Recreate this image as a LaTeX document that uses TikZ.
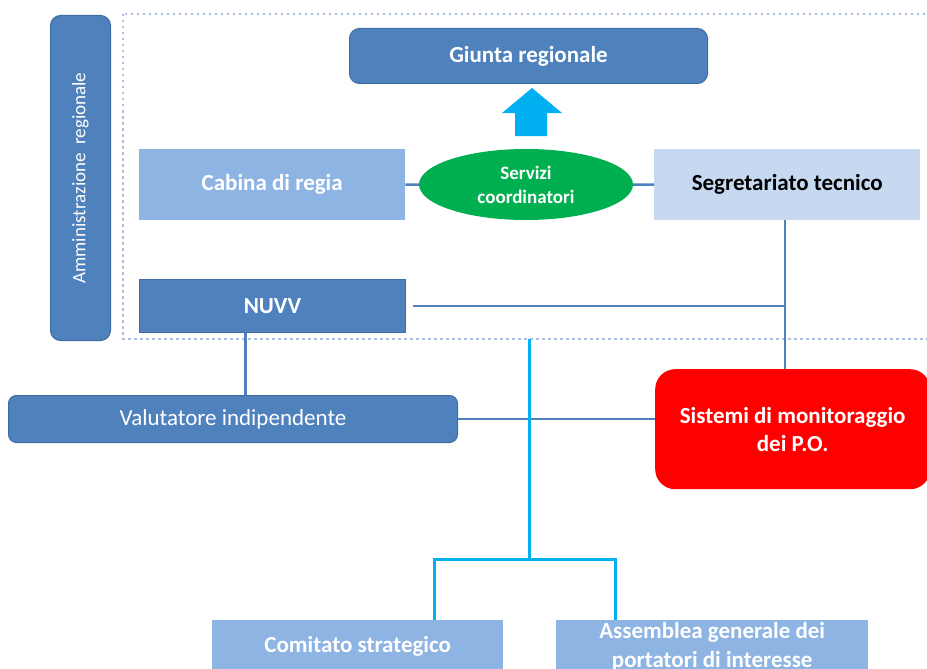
\documentclass[tikz,border=0pt]{standalone}
\usepackage{fontspec}
\setmainfont{Carlito}
\usetikzlibrary{shapes.geometric}
\definecolor{dkblue}{HTML}{4F81BD}
\definecolor{dkborder}{HTML}{3F6CA3}
\definecolor{ltblue}{HTML}{8EB4E3}
\definecolor{paleblue}{HTML}{C6D9F1}
\definecolor{grn}{HTML}{00B050}
\definecolor{cyanc}{HTML}{00B0F0}
\definecolor{dotc}{HTML}{A9C0DE}
\tikzset{
  box/.style={anchor=north west, inner sep=0pt, align=center, text=white, font=\fontsize{23}{28}\selectfont\bfseries},
  darkbox/.style={box, fill=dkblue, draw=dkborder, line width=1pt},
  lightbox/.style={box, fill=ltblue},
  conn/.style={draw=dkblue, line width=2.5pt},
  cyanconn/.style={draw=cyanc, line width=3pt},
}
\begin{document}
\begin{tikzpicture}[x=1pt,y=-1pt]
\useasboundingbox (0,0) rectangle (927,669);
\clip (0,0) rectangle (927,669);
% dotted frame
\draw[dotc, line width=2.5pt, dash pattern=on 2.5pt off 3.5pt] (123,14) rectangle (940,339);
% Admin box
\node[darkbox, rounded corners=10pt, minimum width=60pt, minimum height=325pt] (adm) at (50,15) {};
\node[rotate=90, text=white, font=\fontsize{19}{22}\selectfont] (admtxt) at (adm.center) {Amministrazione\ \ regionale};
% Giunta
\node[darkbox, rounded corners=10pt, minimum width=358pt, minimum height=55pt] (giunta) at (349,28) {Giunta regionale};
% arrow
\fill[cyanc] (515,136) -- (515,113) -- (502,113) -- (532,88) -- (562,113) -- (547,113) -- (547,136) -- cycle;
% middle row
\node[lightbox, minimum width=266pt, minimum height=71pt] (cab) at (139,149) {Cabina di regia};
\node[ellipse, fill=grn, inner sep=0pt, minimum width=214pt, minimum height=71pt, text=white, align=center, font=\fontsize{19}{24}\selectfont\bfseries] (serv) at (526,184.5) {Servizi\\coordinatori};
\node[box, fill=paleblue, text=black, minimum width=266pt, minimum height=71pt] (seg) at (654,149) {Segretariato tecnico};
\node[darkbox, minimum width=266pt, minimum height=53pt] (nuvv) at (139,279) {NUVV};
\node[darkbox, rounded corners=8pt, minimum width=449pt, minimum height=47pt, font=\fontsize{23}{28}\selectfont] (val) at (8,395) {Valutatore indipendente};
\node[box, fill=red, rounded corners=20pt, minimum width=275pt, minimum height=120pt] (sis) at (655,369) {Sistemi di monitoraggio\\dei P.O.};
\node[lightbox, minimum width=291pt, minimum height=53pt] (com) at (212,620) {Comitato strategico};
\node[lightbox, minimum width=312pt, minimum height=53pt, font=\fontsize{23}{29}\selectfont\bfseries] (asm) at (556,620) {Assemblea generale dei\\portatori di interesse};
% connectors
\draw[conn] (cab.east) -- (serv.west);
\draw[conn] (serv.east) -- (seg.west);
\draw[conn] ([xshift=-2pt]seg.south) -- ([xshift=-2pt]seg.south |- sis.north);
\draw[conn] ([xshift=7pt]nuvv.east) -- ([xshift=-2pt]nuvv.east -| seg.south);
\draw[conn] ([xshift=-27pt]nuvv.south) -- ([xshift=-27pt]nuvv.south |- val.north);
\draw[conn] (val.east) -- (val.east -| sis.west);
\coordinate (ctop) at (529,339);
\coordinate (cj) at (529,559);
\draw[cyanconn] (ctop) -- (cj);
\draw[cyanconn] ([xshift=76.5pt]com.north) |- (cj) -| ([xshift=-97pt]asm.north);
\end{tikzpicture}
\end{document}
